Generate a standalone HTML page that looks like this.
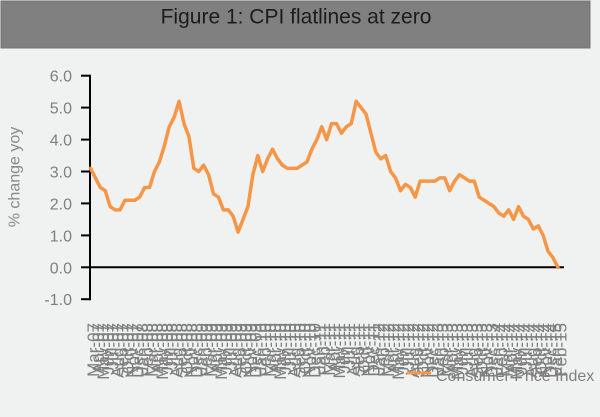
<!DOCTYPE html>
<html>
<head>
<meta charset="utf-8">
<style>
  html, body { margin: 0; padding: 0; }
  body { width: 600px; height: 417px; overflow: hidden; background: #eff2f0; }
  svg { display: block; }
  text { font-family: "Liberation Sans", sans-serif; }
</style>
</head>
<body>
<svg width="600" height="417" viewBox="0 0 600 417" xmlns="http://www.w3.org/2000/svg">
  <rect x="0" y="0" width="600" height="417" fill="#eff2f0"/>
  <!-- title box -->
  <rect x="1" y="1" width="589" height="47" fill="#808080" stroke="#747474" stroke-width="1"/>
  <text x="296" y="23.5" font-size="21" fill="#1c1c1c" text-anchor="middle">Figure 1: CPI flatlines at zero</text>

  <!-- y axis title -->
  <text transform="translate(19.5,177) rotate(-90)" font-size="16" fill="#8a8a8a" text-anchor="middle">% change yoy</text>

  <!-- y tick labels -->
  <g font-size="16" fill="#7f7f7f" text-anchor="end">
    <text x="72" y="81.7">6.0</text>
    <text x="72" y="113.6">5.0</text>
    <text x="72" y="145.6">4.0</text>
    <text x="72" y="177.5">3.0</text>
    <text x="72" y="209.4">2.0</text>
    <text x="72" y="241.4">1.0</text>
    <text x="72" y="273.3">0.0</text>
    <text x="72" y="305.2">-1.0</text>
  </g>

  <!-- axes -->
  <g stroke="#000" stroke-width="2" fill="none">
    <line x1="90" y1="74.7" x2="90" y2="300.2"/>
    <line x1="81" y1="75.7" x2="90" y2="75.7"/>
    <line x1="81" y1="107.6" x2="90" y2="107.6"/>
    <line x1="81" y1="139.6" x2="90" y2="139.6"/>
    <line x1="81" y1="171.5" x2="90" y2="171.5"/>
    <line x1="81" y1="203.4" x2="90" y2="203.4"/>
    <line x1="81" y1="235.4" x2="90" y2="235.4"/>
    <line x1="81" y1="267.3" x2="90" y2="267.3"/>
    <line x1="81" y1="299.2" x2="90" y2="299.2"/>
    <line x1="89" y1="267.3" x2="564" y2="267.3"/>
  </g>

  <!-- data line -->
  <polyline transform="translate(90.5,267.3) scale(4.92,-31.93)" vector-effect="non-scaling-stroke"
    fill="none" stroke="#f79646" stroke-width="3.5" stroke-linejoin="round" stroke-linecap="round"
    points="0,3.1 1,2.8 2,2.5 3,2.4 4,1.9 5,1.8 6,1.8 7,2.1 8,2.1 9,2.1 10,2.2 11,2.5 12,2.5 13,3.0 14,3.3 15,3.8 16,4.4 17,4.7 18,5.2 19,4.5 20,4.1 21,3.1 22,3.0 23,3.2 24,2.9 25,2.3 26,2.2 27,1.8 28,1.8 29,1.6 30,1.1 31,1.5 32,1.9 33,2.9 34,3.5 35,3.0 36,3.4 37,3.7 38,3.4 39,3.2 40,3.1 41,3.1 42,3.1 43,3.2 44,3.3 45,3.7 46,4.0 47,4.4 48,4.0 49,4.5 50,4.5 51,4.2 52,4.4 53,4.5 54,5.2 55,5.0 56,4.8 57,4.2 58,3.6 59,3.4 60,3.5 61,3.0 62,2.8 63,2.4 64,2.6 65,2.5 66,2.2 67,2.7 68,2.7 69,2.7 70,2.7 71,2.8 72,2.8 73,2.4 74,2.7 75,2.9 76,2.8 77,2.7 78,2.7 79,2.2 80,2.1 81,2.0 82,1.9 83,1.7 84,1.6 85,1.8 86,1.5 87,1.9 88,1.6 89,1.5 90,1.2 91,1.3 92,1.0 93,0.5 94,0.3 95,0.0"/>

  <!-- x labels -->
  <g font-size="17" fill="#7f7f7f" text-anchor="end">
    <text transform="translate(99.0,323) rotate(-90)">Mar-07</text>
    <text transform="translate(103.9,323) rotate(-90)">Apr-07</text>
    <text transform="translate(108.8,323) rotate(-90)">May-07</text>
    <text transform="translate(113.8,323) rotate(-90)">Jun-07</text>
    <text transform="translate(118.7,323) rotate(-90)">Jul-07</text>
    <text transform="translate(123.6,323) rotate(-90)">Aug-07</text>
    <text transform="translate(128.5,323) rotate(-90)">Sep-07</text>
    <text transform="translate(133.4,323) rotate(-90)">Oct-07</text>
    <text transform="translate(138.4,323) rotate(-90)">Nov-07</text>
    <text transform="translate(143.3,323) rotate(-90)">Dec-07</text>
    <text transform="translate(148.2,323) rotate(-90)">Jan-08</text>
    <text transform="translate(153.1,323) rotate(-90)">Feb-08</text>
    <text transform="translate(158.0,323) rotate(-90)">Mar-08</text>
    <text transform="translate(163.0,323) rotate(-90)">Apr-08</text>
    <text transform="translate(167.9,323) rotate(-90)">May-08</text>
    <text transform="translate(172.8,323) rotate(-90)">Jun-08</text>
    <text transform="translate(177.7,323) rotate(-90)">Jul-08</text>
    <text transform="translate(182.6,323) rotate(-90)">Aug-08</text>
    <text transform="translate(187.6,323) rotate(-90)">Sep-08</text>
    <text transform="translate(192.5,323) rotate(-90)">Oct-08</text>
    <text transform="translate(197.4,323) rotate(-90)">Nov-08</text>
    <text transform="translate(202.3,323) rotate(-90)">Dec-08</text>
    <text transform="translate(207.2,323) rotate(-90)">Jan-09</text>
    <text transform="translate(212.2,323) rotate(-90)">Feb-09</text>
    <text transform="translate(217.1,323) rotate(-90)">Mar-09</text>
    <text transform="translate(222.0,323) rotate(-90)">Apr-09</text>
    <text transform="translate(226.9,323) rotate(-90)">May-09</text>
    <text transform="translate(231.8,323) rotate(-90)">Jun-09</text>
    <text transform="translate(236.8,323) rotate(-90)">Jul-09</text>
    <text transform="translate(241.7,323) rotate(-90)">Aug-09</text>
    <text transform="translate(246.6,323) rotate(-90)">Sep-09</text>
    <text transform="translate(251.5,323) rotate(-90)">Oct-09</text>
    <text transform="translate(256.4,323) rotate(-90)">Nov-09</text>
    <text transform="translate(261.4,323) rotate(-90)">Dec-09</text>
    <text transform="translate(266.3,323) rotate(-90)">Jan-10</text>
    <text transform="translate(271.2,323) rotate(-90)">Feb-10</text>
    <text transform="translate(276.1,323) rotate(-90)">Mar-10</text>
    <text transform="translate(281.0,323) rotate(-90)">Apr-10</text>
    <text transform="translate(286.0,323) rotate(-90)">May-10</text>
    <text transform="translate(290.9,323) rotate(-90)">Jun-10</text>
    <text transform="translate(295.8,323) rotate(-90)">Jul-10</text>
    <text transform="translate(300.7,323) rotate(-90)">Aug-10</text>
    <text transform="translate(305.6,323) rotate(-90)">Sep-10</text>
    <text transform="translate(310.6,323) rotate(-90)">Oct-10</text>
    <text transform="translate(315.5,323) rotate(-90)">Nov-10</text>
    <text transform="translate(320.4,323) rotate(-90)">Dec-10</text>
    <text transform="translate(325.3,323) rotate(-90)">Jan-11</text>
    <text transform="translate(330.2,323) rotate(-90)">Feb-11</text>
    <text transform="translate(335.2,323) rotate(-90)">Mar-11</text>
    <text transform="translate(340.1,323) rotate(-90)">Apr-11</text>
    <text transform="translate(345.0,323) rotate(-90)">May-11</text>
    <text transform="translate(349.9,323) rotate(-90)">Jun-11</text>
    <text transform="translate(354.8,323) rotate(-90)">Jul-11</text>
    <text transform="translate(359.8,323) rotate(-90)">Aug-11</text>
    <text transform="translate(364.7,323) rotate(-90)">Sep-11</text>
    <text transform="translate(369.6,323) rotate(-90)">Oct-11</text>
    <text transform="translate(374.5,323) rotate(-90)">Nov-11</text>
    <text transform="translate(379.4,323) rotate(-90)">Dec-11</text>
    <text transform="translate(384.4,323) rotate(-90)">Jan-12</text>
    <text transform="translate(389.3,323) rotate(-90)">Feb-12</text>
    <text transform="translate(394.2,323) rotate(-90)">Mar-12</text>
    <text transform="translate(399.1,323) rotate(-90)">Apr-12</text>
    <text transform="translate(404.0,323) rotate(-90)">May-12</text>
    <text transform="translate(409.0,323) rotate(-90)">Jun-12</text>
    <text transform="translate(413.9,323) rotate(-90)">Jul-12</text>
    <text transform="translate(418.8,323) rotate(-90)">Aug-12</text>
    <text transform="translate(423.7,323) rotate(-90)">Sep-12</text>
    <text transform="translate(428.6,323) rotate(-90)">Oct-12</text>
    <text transform="translate(433.6,323) rotate(-90)">Nov-12</text>
    <text transform="translate(438.5,323) rotate(-90)">Dec-12</text>
    <text transform="translate(443.4,323) rotate(-90)">Jan-13</text>
    <text transform="translate(448.3,323) rotate(-90)">Feb-13</text>
    <text transform="translate(453.2,323) rotate(-90)">Mar-13</text>
    <text transform="translate(458.2,323) rotate(-90)">Apr-13</text>
    <text transform="translate(463.1,323) rotate(-90)">May-13</text>
    <text transform="translate(468.0,323) rotate(-90)">Jun-13</text>
    <text transform="translate(472.9,323) rotate(-90)">Jul-13</text>
    <text transform="translate(477.8,323) rotate(-90)">Aug-13</text>
    <text transform="translate(482.8,323) rotate(-90)">Sep-13</text>
    <text transform="translate(487.7,323) rotate(-90)">Oct-13</text>
    <text transform="translate(492.6,323) rotate(-90)">Nov-13</text>
    <text transform="translate(497.5,323) rotate(-90)">Dec-13</text>
    <text transform="translate(502.4,323) rotate(-90)">Jan-14</text>
    <text transform="translate(507.4,323) rotate(-90)">Feb-14</text>
    <text transform="translate(512.3,323) rotate(-90)">Mar-14</text>
    <text transform="translate(517.2,323) rotate(-90)">Apr-14</text>
    <text transform="translate(522.1,323) rotate(-90)">May-14</text>
    <text transform="translate(527.0,323) rotate(-90)">Jun-14</text>
    <text transform="translate(532.0,323) rotate(-90)">Jul-14</text>
    <text transform="translate(536.9,323) rotate(-90)">Aug-14</text>
    <text transform="translate(541.8,323) rotate(-90)">Sep-14</text>
    <text transform="translate(546.7,323) rotate(-90)">Oct-14</text>
    <text transform="translate(551.6,323) rotate(-90)">Nov-14</text>
    <text transform="translate(556.6,323) rotate(-90)">Dec-14</text>
    <text transform="translate(561.5,323) rotate(-90)">Jan-15</text>
    <text transform="translate(566.4,323) rotate(-90)">Feb-15</text>
  </g>

  <!-- legend -->
  <line x1="407" y1="373" x2="431" y2="373" stroke="#f79646" stroke-width="3"/>
  <text x="436" y="381" font-size="16" fill="#7f7f7f">Consumer Price Index</text>
</svg>
</body>
</html>
